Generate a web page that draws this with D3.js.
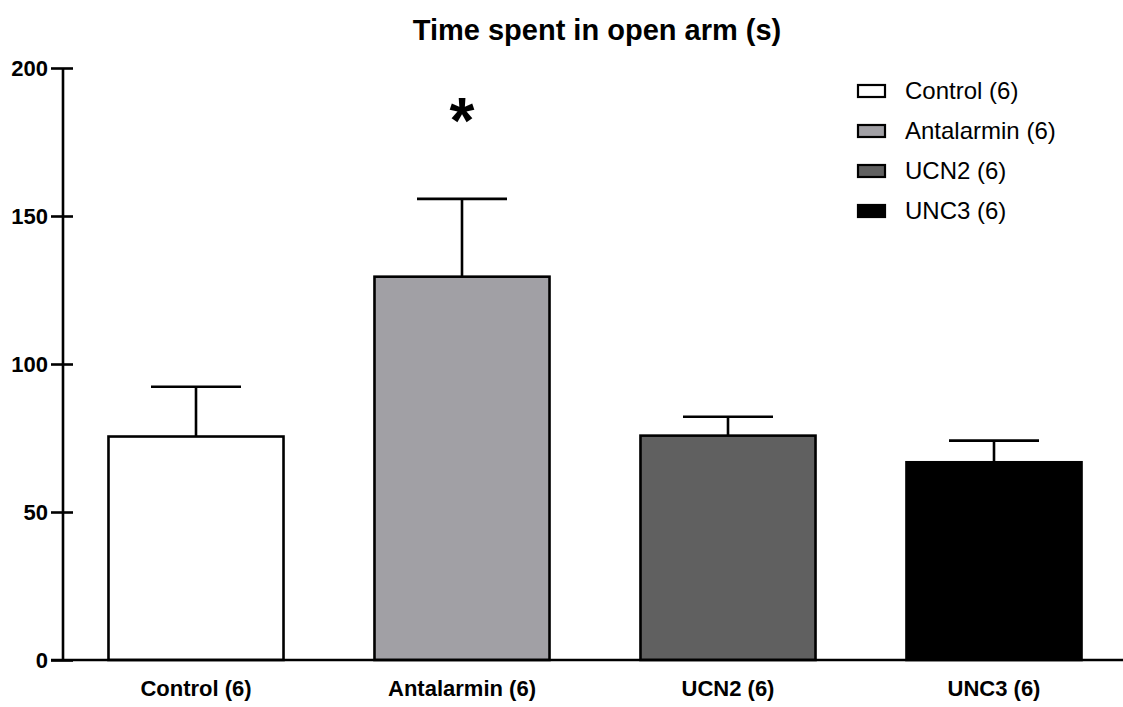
<!DOCTYPE html>
<html><head><meta charset="utf-8">
<script src="https://cdn.jsdelivr.net/npm/d3@7"></script>
<style>body{margin:0;background:#fff}svg{display:block}text{font-family:Arial,"Liberation Sans",sans-serif}</style>
</head><body>
<svg id="c" width="1123" height="707"></svg>
<script>
const categories = ["Control (6)", "Antalarmin (6)", "UCN2 (6)", "UNC3 (6)"];
const means = [75.5, 129.5, 75.8, 66.8];
const sems = [16.8, 26.3, 6.4, 7.3];
const fills = ["#ffffff", "#a1a0a5", "#606060", "#000000"];
const yTicks = [0, 50, 100, 150, 200];
const title = "Time spent in open arm (s)";
const sigLabel = ["", "*", "", ""];

const svg = d3.select("#c");
const x0 = 63, yBase = 660, yTop = 68;
const x = d3.scaleBand().domain(categories).range([x0, 1127]).paddingInner(0.342).paddingOuter(0.171);
const y = d3.scaleLinear().domain([0, 200]).range([yBase, yTop]);

svg.append("text").attr("x", 597).attr("y", 40).attr("text-anchor", "middle")
  .attr("font-size", 29).attr("font-weight", "bold").text(title);

// bars
const data = categories.map((c, i) => ({c, m: means[i], s: sems[i], f: fills[i], sig: sigLabel[i]}));
const g = svg.append("g");
g.selectAll("rect.bar").data(data).join("rect").attr("class", "bar")
  .attr("x", d => x(d.c)).attr("width", x.bandwidth())
  .attr("y", d => y(d.m)).attr("height", d => y(0) - y(d.m))
  .attr("fill", d => d.f).attr("stroke", "#000").attr("stroke-width", 2.6);

// error bars (upper only)
const capW = 90;
g.selectAll("line.ev").data(data).join("line").attr("class", "ev")
  .attr("x1", d => x(d.c) + x.bandwidth()/2).attr("x2", d => x(d.c) + x.bandwidth()/2)
  .attr("y1", d => y(d.m)).attr("y2", d => y(d.m + d.s))
  .attr("stroke", "#000").attr("stroke-width", 2.6);
g.selectAll("line.cap").data(data).join("line").attr("class", "cap")
  .attr("x1", d => x(d.c) + x.bandwidth()/2 - capW/2).attr("x2", d => x(d.c) + x.bandwidth()/2 + capW/2)
  .attr("y1", d => y(d.m + d.s)).attr("y2", d => y(d.m + d.s))
  .attr("stroke", "#000").attr("stroke-width", 2.6);

// significance
g.selectAll("text.sig").data(data.filter(d => d.sig)).join("text").attr("class", "sig")
  .attr("x", d => x(d.c) + x.bandwidth()/2).attr("y", 143).attr("text-anchor", "middle")
  .attr("font-size", 64).attr("font-weight", "bold").text(d => d.sig);

// y axis
const yAxis = d3.axisLeft(y).tickValues(yTicks).tickSize(12).tickPadding(4);
const ya = svg.append("g").attr("transform", `translate(${x0},0)`).call(yAxis);
ya.select(".domain").remove();
ya.append("line").attr("x1", 0).attr("x2", 0).attr("y1", yTop).attr("y2", yBase).attr("stroke", "#000").attr("stroke-width", 2.6);
ya.selectAll(".tick line").attr("stroke", "#000").attr("stroke-width", 2.6).attr("x1", -12).attr("x2", 10);
ya.selectAll(".tick text").attr("font-size", 22).attr("font-weight", "bold").attr("fill", "#000")
  .attr("font-family", "Arial, 'Liberation Sans', sans-serif").attr("x", -15);

// x axis
const xAxis = d3.axisBottom(x).tickSize(0).tickPadding(20);
const xa = svg.append("g").attr("transform", `translate(0,${yBase})`).call(xAxis);
xa.select(".domain").remove();
xa.append("line").attr("x1", x0 - 12).attr("x2", 1123).attr("y1", 0).attr("y2", 0).attr("stroke", "#000").attr("stroke-width", 2.6);
xa.selectAll(".tick text").attr("font-size", 22).attr("font-weight", "bold").attr("fill", "#000")
  .attr("font-family", "Arial, 'Liberation Sans', sans-serif");

// legend
const lg = svg.append("g").attr("transform", "translate(858,91)");
const items = lg.selectAll("g").data(data).join("g").attr("transform", (d, i) => `translate(0,${i*40})`);
items.append("rect").attr("x", 0).attr("y", -6).attr("width", 27).attr("height", 12)
  .attr("fill", d => d.f).attr("stroke", "#000").attr("stroke-width", 2.2);
items.append("text").attr("x", 47).attr("y", 0).attr("dy", "0.35em").attr("font-size", 24).text(d => d.c);
</script>
</body></html>
